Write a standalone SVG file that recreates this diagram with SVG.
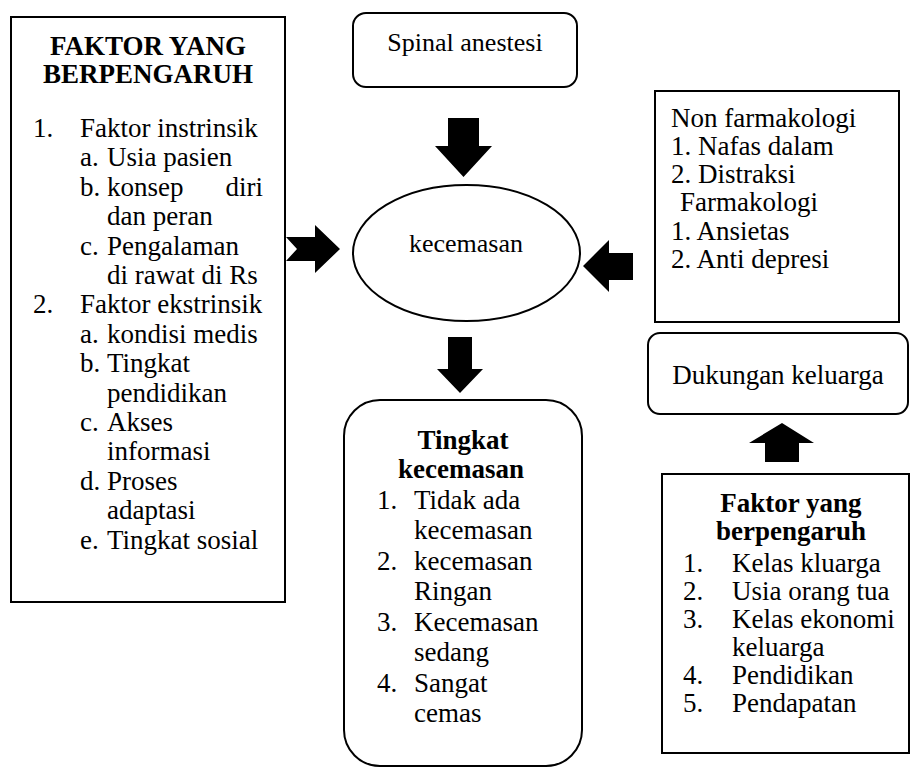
<svg xmlns="http://www.w3.org/2000/svg" width="911" height="767" viewBox="0 0 911 767">
<style>
.box{fill:#fff;stroke:#000;stroke-width:2}
.t{font-family:"Liberation Serif","Times New Roman",serif;font-size:27px;fill:#000}
.s{font-size:26px}
.b{font-weight:bold}
.c{text-anchor:middle}
.arr{fill:#000;stroke:none}
</style>
<rect width="911" height="767" fill="#fff"/>
<g id="faktor-left">
<rect class="box" x="11" y="17" width="274" height="585"/>
<text class="t b c" x="148" y="55">FAKTOR YANG</text>
<text class="t b c" x="148" y="83">BERPENGARUH</text>
<text class="t" x="33" y="137">1.</text><text class="t" x="80" y="137">Faktor instrinsik</text>
<text class="t" x="80" y="166.4">a.</text><text class="t" x="107" y="166.4">Usia pasien</text>
<text class="t" x="80" y="195.8">b.</text><text class="t" x="107" y="195.8">konsep</text><text class="t" x="263" y="195.8" text-anchor="end">diri</text>
<text class="t" x="107" y="225.2">dan peran</text>
<text class="t" x="80" y="254.6">c.</text><text class="t" x="107" y="254.6">Pengalaman</text>
<text class="t" x="107" y="284">di rawat di Rs</text>
<text class="t" x="33" y="313.4">2.</text><text class="t" x="80" y="313.4">Faktor ekstrinsik</text>
<text class="t" x="80" y="342.8">a.</text><text class="t" x="107" y="342.8">kondisi medis</text>
<text class="t" x="80" y="372.2">b.</text><text class="t" x="107" y="372.2">Tingkat</text>
<text class="t" x="107" y="401.6">pendidikan</text>
<text class="t" x="80" y="431">c.</text><text class="t" x="107" y="431">Akses</text>
<text class="t" x="107" y="460.4">informasi</text>
<text class="t" x="80" y="489.8">d.</text><text class="t" x="107" y="489.8">Proses</text>
<text class="t" x="107" y="519.2">adaptasi</text>
<text class="t" x="80" y="548.6">e.</text><text class="t" x="107" y="548.6">Tingkat sosial</text>
</g>
<g id="spinal">
<rect class="box" x="353" y="13" width="224" height="74" rx="13"/>
<text class="t s c" x="465" y="51">Spinal anestesi</text>
</g>
<g id="kecemasan">
<ellipse class="box" cx="466.5" cy="253" rx="113.5" ry="68"/>
<text class="t s c" x="466" y="252">kecemasan</text>
</g>
<g id="farmakologi">
<rect class="box" x="655" y="91" width="244" height="231"/>
<text class="t" x="671" y="127">Non farmakologi</text>
<text class="t" x="671" y="155">1. Nafas dalam</text>
<text class="t" x="671" y="183">2. Distraksi</text>
<text class="t" x="680" y="211">Farmakologi</text>
<text class="t" x="671" y="240">1. Ansietas</text>
<text class="t" x="671" y="268">2. Anti depresi</text>
</g>
<g id="dukungan">
<rect class="box" x="648" y="333" width="260" height="81" rx="12"/>
<text class="t c" x="778" y="384">Dukungan keluarga</text>
</g>
<g id="tingkat">
<rect class="box" x="344" y="400" width="238" height="366" rx="36"/>
<text class="t b c" x="463" y="449">Tingkat</text>
<text class="t b c" x="461" y="478">kecemasan</text>
<text class="t" x="377" y="509">1.</text><text class="t" x="414" y="509">Tidak ada</text>
<text class="t" x="414" y="539">kecemasan</text>
<text class="t" x="377" y="570">2.</text><text class="t" x="414" y="570">kecemasan</text>
<text class="t" x="414" y="600">Ringan</text>
<text class="t" x="377" y="631">3.</text><text class="t" x="414" y="631">Kecemasan</text>
<text class="t" x="414" y="661">sedang</text>
<text class="t" x="377" y="692">4.</text><text class="t" x="414" y="692">Sangat</text>
<text class="t" x="414" y="722">cemas</text>
</g>
<g id="faktor-right">
<rect class="box" x="662" y="474" width="247" height="279"/>
<text class="t b c" x="791" y="512">Faktor yang</text>
<text class="t b c" x="791" y="540">berpengaruh</text>
<text class="t" x="683" y="572">1.</text><text class="t" x="732" y="572">Kelas kluarga</text>
<text class="t" x="683" y="600">2.</text><text class="t" x="732" y="600">Usia orang tua</text>
<text class="t" x="683" y="628">3.</text><text class="t" x="732" y="628">Kelas ekonomi</text>
<text class="t" x="732" y="656">keluarga</text>
<text class="t" x="683" y="684">4.</text><text class="t" x="732" y="684">Pendidikan</text>
<text class="t" x="683" y="712">5.</text><text class="t" x="732" y="712">Pendapatan</text>
</g>
<g id="connectors">
<polygon class="arr" points="448,118 479,118 479,146 492,146 463.5,177 435,146 448,146"/>
<polygon class="arr" points="286,237 315,237 315,225 340,249 315,273 315,261 286,261 297,249"/>
<polygon class="arr" points="583,266 609,240 609,253 633,253 633,280 609,280 609,292"/>
<polygon class="arr" points="448,337 472,337 472,369 483,369 460,393 437,369 448,369"/>
<polygon class="arr" points="765,462 799,462 799,443 814,443 782,423 749,443 765,443"/>
</g>
</svg>
